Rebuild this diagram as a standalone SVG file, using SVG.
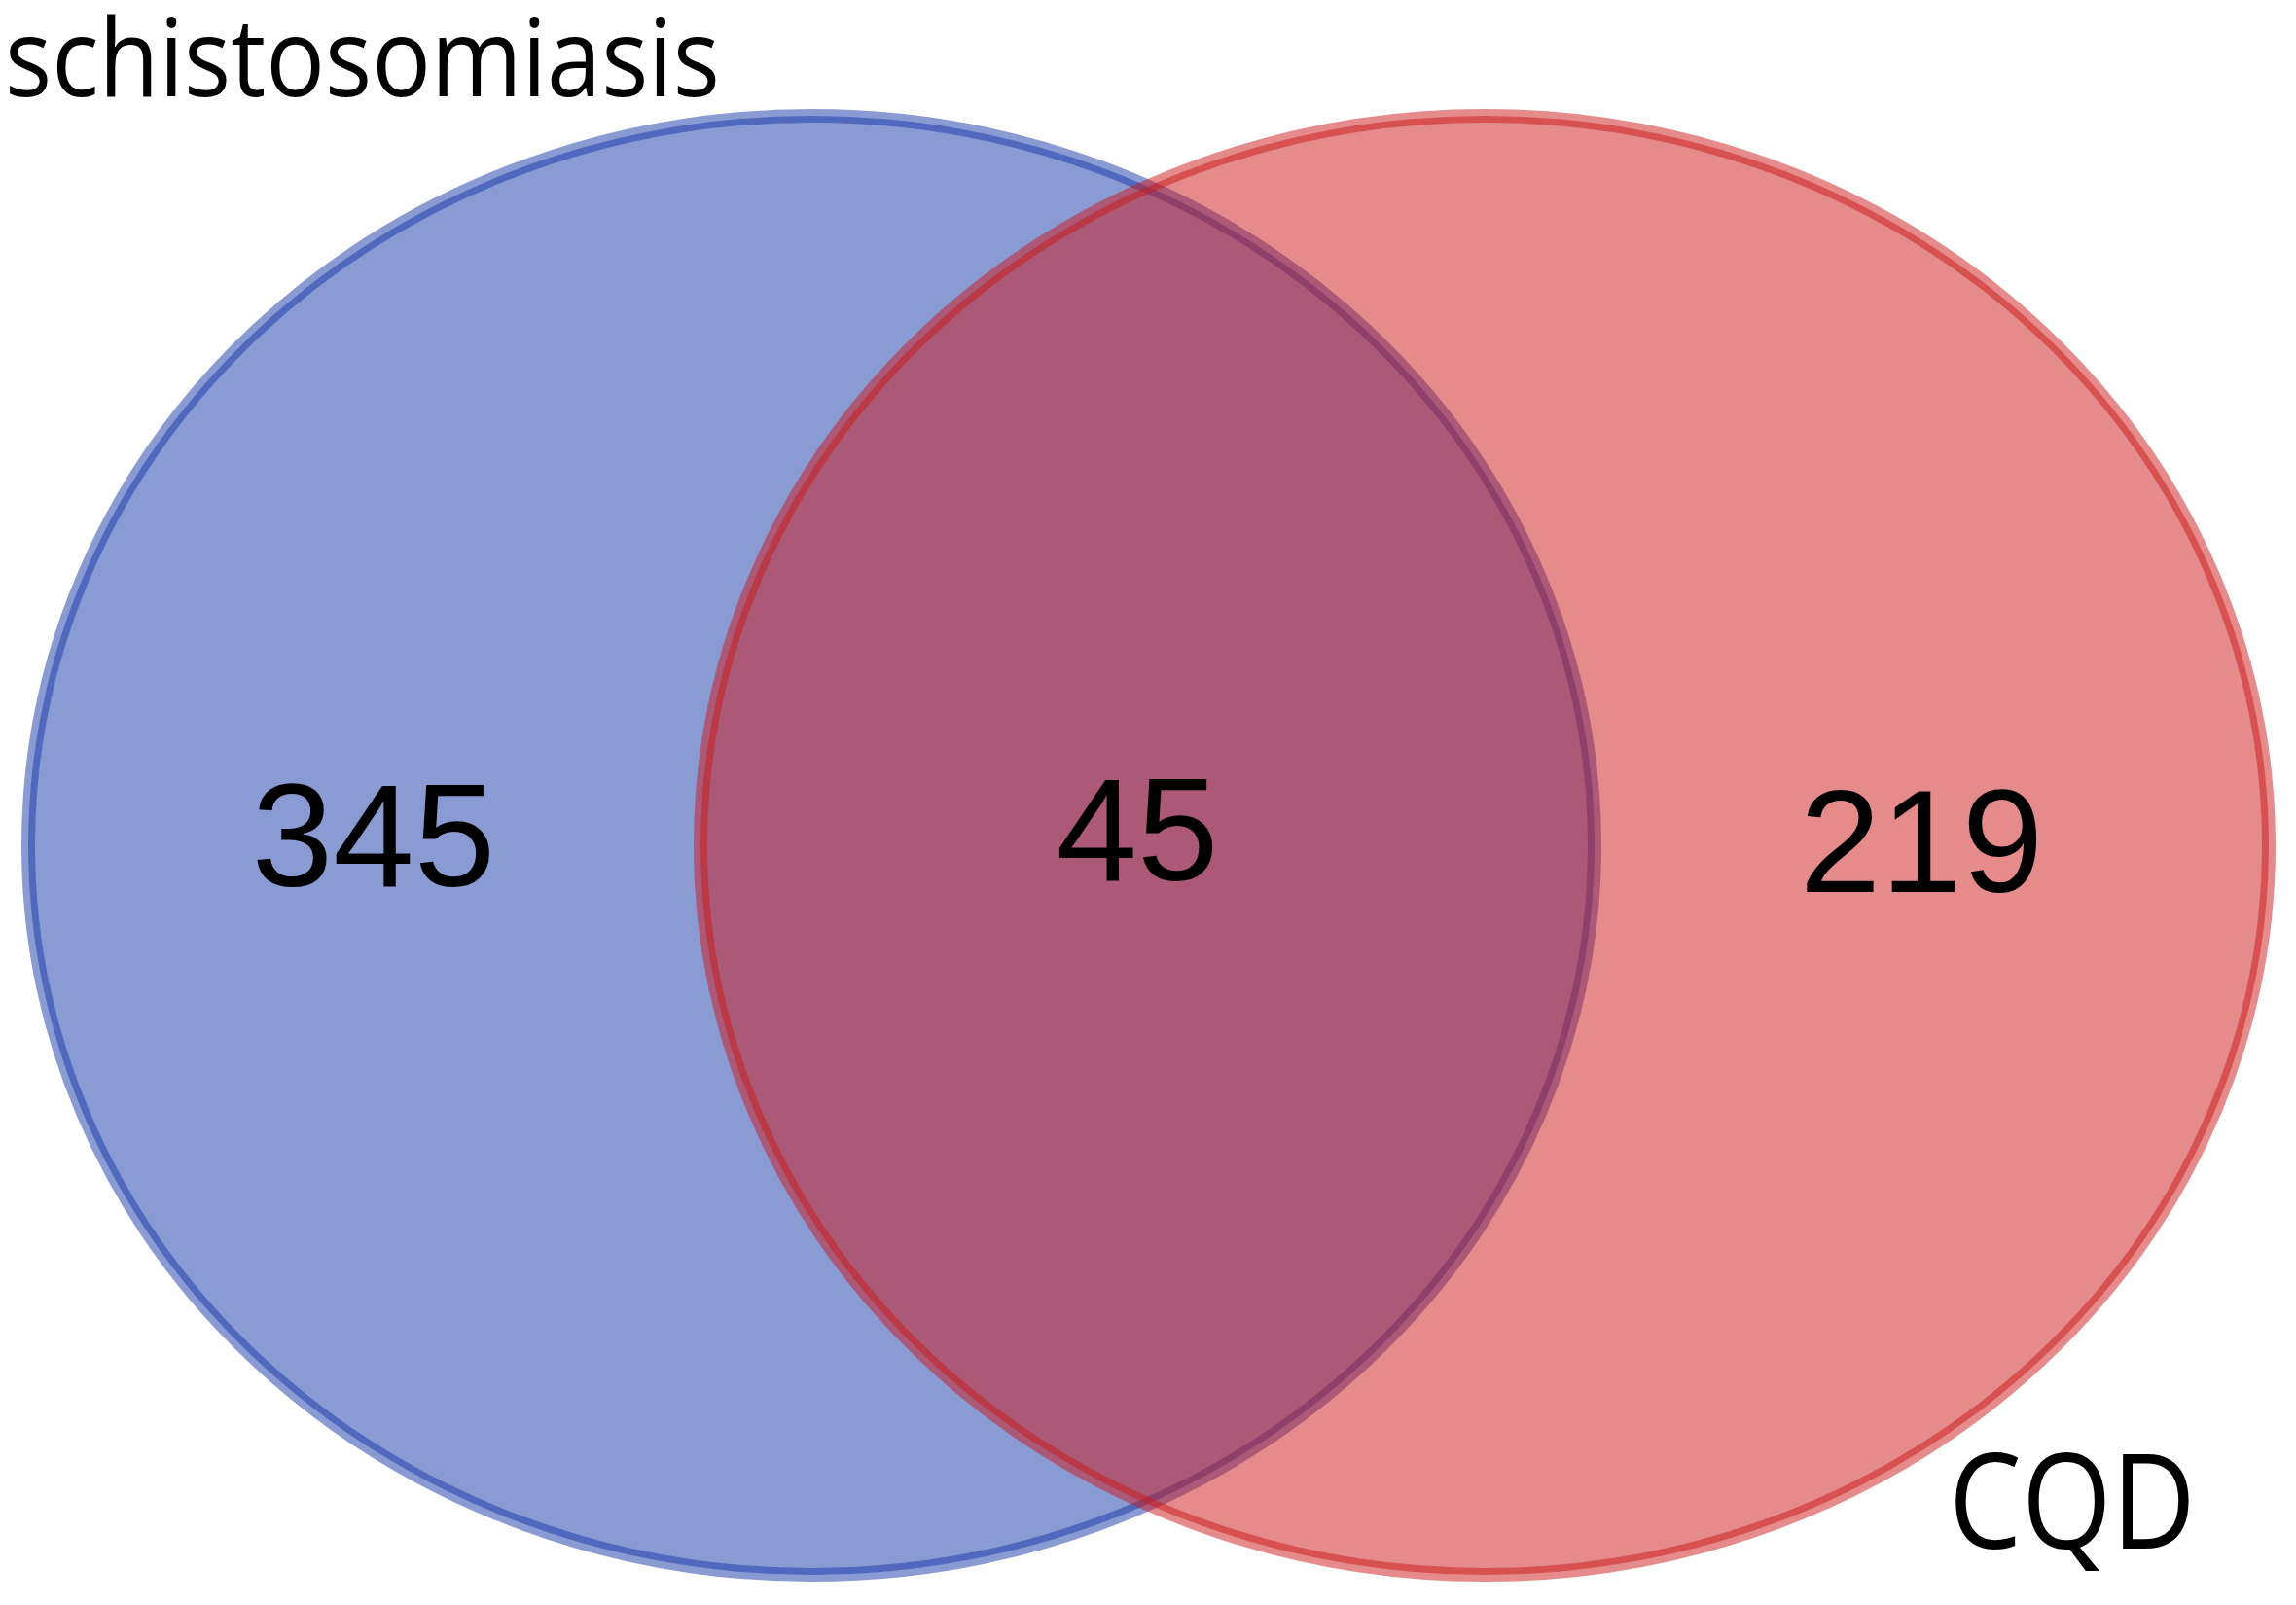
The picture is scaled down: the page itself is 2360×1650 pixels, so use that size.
<svg xmlns="http://www.w3.org/2000/svg" width="2360" height="1650" viewBox="0 0 2360 1650">
<style>
.set{stroke-width:14}
.blue{fill:#1537a9;fill-opacity:.5;stroke:#1537a9;stroke-opacity:.5}
.red{fill:#cb1717;fill-opacity:.5;stroke:#cb1717;stroke-opacity:.5}
.num{font-family:"Liberation Sans",Arial,sans-serif;font-size:150px;fill:#000;text-anchor:middle}
.lab{font-family:"Open Sans","Noto Sans",sans-serif;fill:#000}
</style>
<rect width="2360" height="1650" fill="#fff"/>
<g id="set-schistosomiasis">
<ellipse class="set blue" cx="834" cy="869" rx="805" ry="750"/>
</g>
<g id="set-CQD">
<ellipse class="set red" cx="1526" cy="869" rx="806" ry="750"/>
</g>
<g id="counts">
<text class="num" x="384" y="911">345</text>
<text class="num" x="1169" y="905">45</text>
<text class="num" x="1975" y="917">219</text>
</g>
<g id="labels">
<text class="lab" x="5" y="99" font-size="112" textLength="735" lengthAdjust="spacingAndGlyphs">schistosomiasis</text>
<text class="lab" x="2003" y="1592" font-size="136" textLength="254" lengthAdjust="spacingAndGlyphs">CQD</text>
</g>
<g id="connectors"/>
</svg>
